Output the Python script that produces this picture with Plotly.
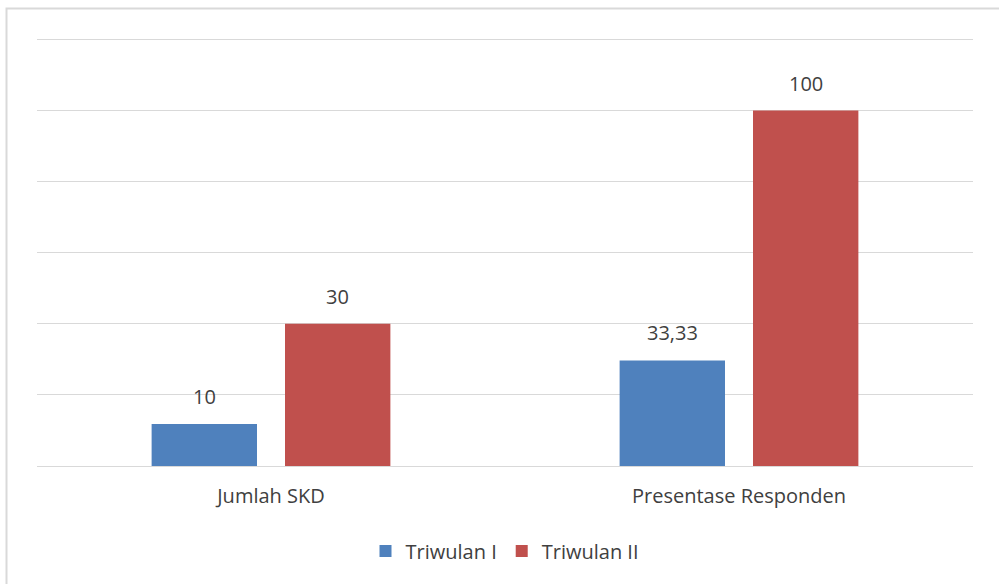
import plotly.graph_objects as go

categories = ["Jumlah SKD", "Presentase Responden"]
series_names = ["Triwulan I", "Triwulan II"]
# bar heights as drawn in the picture (axis 0..120, gridlines every 20)
tw1_values = [11.8, 29.7]
tw2_values = [40, 100]
# data labels as printed in the picture
tw1_labels = ["10", "33,33"]
tw2_labels = ["30", "100"]

colors = ["#4F81BD", "#C0504D"]
font_family = "'Open Sans', Lato, 'DejaVu Sans', sans-serif"
text_color = "#404040"
fs = 20

W, H = 999, 584
ml, mr, mt, mb = 37, 26, 38, 118
pw, ph = W - ml - mr, H - mt - mb
bargap, bargroupgap = 0.43, 0.21
slot_px = (1 - bargap) * pw / len(categories) / 2

fig = go.Figure()
annotations = []
for i, (name, vals, labels, col) in enumerate([
    (series_names[0], tw1_values, tw1_labels, colors[0]),
    (series_names[1], tw2_values, tw2_labels, colors[1]),
]):
    fig.add_trace(go.Bar(
        name=name, x=categories, y=vals,
        marker=dict(color=col, line=dict(width=0)),
    ))
    for c, v, lab in zip(categories, vals, labels):
        annotations.append(dict(
            x=c, y=v, xref="x", yref="y", text=lab, showarrow=False,
            xshift=(i - 0.5) * slot_px, yshift=12, yanchor="bottom",
            font=dict(size=fs, color=text_color, family=font_family),
        ))

fig.update_layout(
    width=W, height=H,
    margin=dict(l=ml, r=mr, t=mt, b=mb, autoexpand=False),
    paper_bgcolor="white", plot_bgcolor="white",
    barmode="group", bargap=bargap, bargroupgap=bargroupgap,
    font=dict(family=font_family, size=fs, color=text_color),
    showlegend=True,
    legend=dict(orientation="h", x=0.5, xanchor="center", y=-(551 - mt - ph) / ph, yanchor="middle",
                font=dict(size=fs, color=text_color), traceorder="normal"),
    xaxis=dict(showgrid=False, showline=False, ticks="", ticklabelstandoff=16,
               tickfont=dict(size=fs, color=text_color)),
    yaxis=dict(range=[0, 120.4], dtick=20, showgrid=True, gridcolor="#D9D9D9", gridwidth=1.3,
               showticklabels=False, zeroline=True, zerolinecolor="#D9D9D9", zerolinewidth=1.3,
               showline=False, ticks=""),
    annotations=annotations,
    shapes=[dict(type="rect", xref="paper", yref="paper",
                 x0=(6.5 - ml) / pw, x1=(W + 10 - ml) / pw,
                 y0=-(H + 10 - mt - ph) / ph, y1=1 + (mt - 8.5) / ph,
                 line=dict(color="#D9D9D9", width=2), fillcolor="rgba(0,0,0,0)", layer="below")],
)

fig.write_html("out.html", post_script="document.body.style.margin='0';",
               config={"displayModeBar": False})
